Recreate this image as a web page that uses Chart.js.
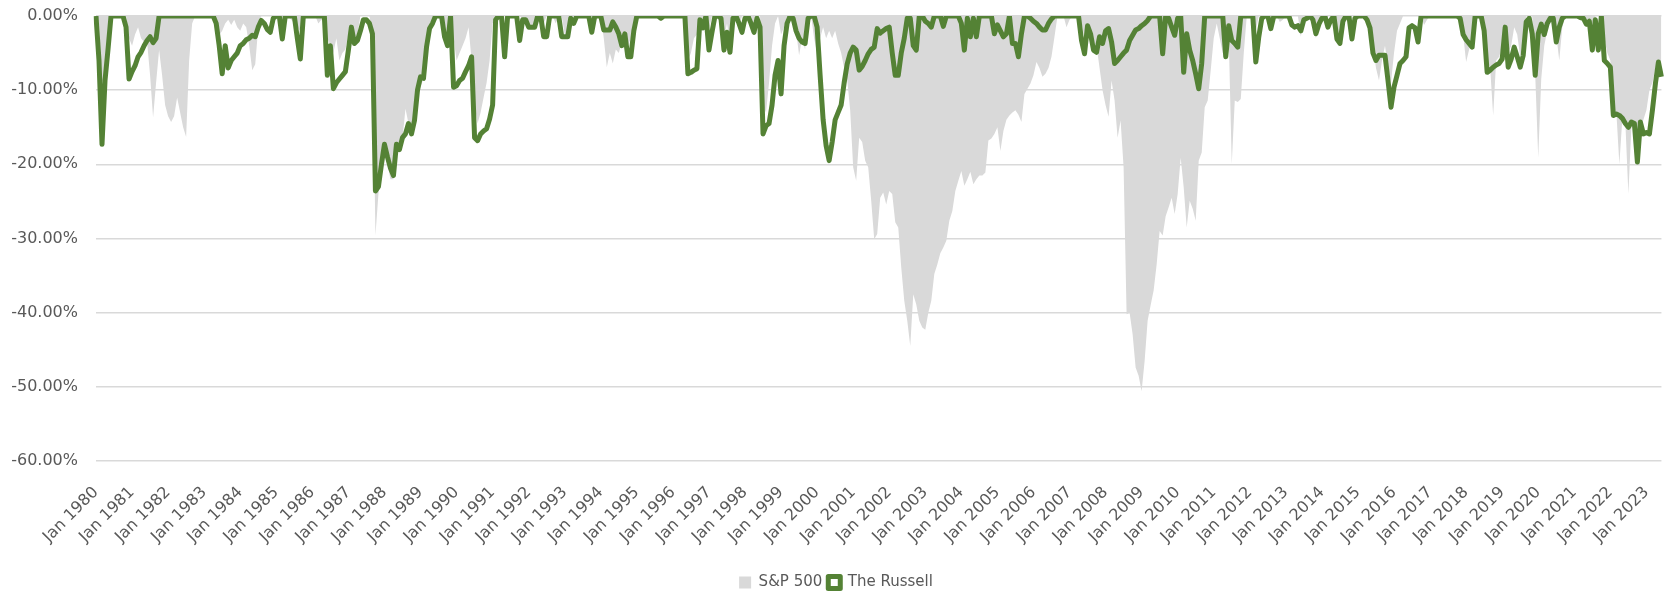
<!DOCTYPE html>
<html lang="en">
<head>
    <meta charset="UTF-8">
    <title>S&amp;P 500 vs The Russell - Drawdowns</title>
    <script src="https://cdn.jsdelivr.net/npm/chart.js"></script>
    <style>
        body { margin: 0; background: #fff; }
        .chart-box { width: 1674px; height: 596px; }
    </style>
</head>
<body>
    <div class="chart-box"><canvas id="ddChart"></canvas></div>

    <script>
    // monthly drawdowns in %, Jan 1980 .. Jun 2023 (one row per year)
    const firstYear = 1980;
    const monthNames = ["Jan", "Feb", "Mar", "Apr", "May", "Jun", "Jul", "Aug", "Sep", "Oct", "Nov", "Dec"];

    const sp500 = [
        0, -1, -9, -8, -3, 0, 0, 0, 0, 0, 0, -3,                                  // 1980
        -4, -2.5, -1.5, -3, -3.5, -3.5, -8, -13.7, -9, -4.6, -8, -12,             // 1981
        -13.5, -14.3, -13.5, -11, -13, -15, -16.3, -6, -1, 0, 0, 0,               // 1982
        0, 0, 0, 0, -1, -2.6, -2, -1, -0.5, -1.2, -0.5, -1.5,                     // 1983
        -2, -1, -1.5, -4, -7.3, -6.5, -1.5, 0, 0, 0, 0, 0,                        // 1984
        0, 0, -1.5, 0, 0, -0.5, -1, -1.5, -2, 0, 0, 0,                            // 1985
        0, 0, -1, -0.5, -1, -3, -4, -5, -3, -6, -5, -4.5,                         // 1986
        -2.5, -1, -3, -2.5, 0, 0, 0, 0, -2.5, -29.6, -24, -21,                    // 1987
        -18.5, -20, -22, -22, -18, -18.5, -16.5, -12.5, -14.5, -16, -14, -11,     // 1988
        -9.5, -8.5, -6.5, -3, -1, 0, 0, 0, -1.5, -2.5, -1, -3,                    // 1989
        -6, -5, -4, -3, -1.5, -6, -12, -14.5, -13, -11, -9, -6,                   // 1990
        -1, 0, 0, 0, 0, 0, 0, 0, 0, 0, -0.5, -1,                                  // 1991
        -1.5, -1.8, -1, 0, 0, -1, 0, 0, 0, -1, 0, 0,                              // 1992
        -2.5, -3, -1.5, 0, 0, 0, 0, 0, 0, 0, 0, 0,                                // 1993
        0, -3, -6.9, -5, -6.4, -4.5, -5, -3.5, -2.5, -4, -3, -1,                  // 1994
        0, 0, 0, 0, 0, 0, 0, 0, -0.3, 0, 0, 0,                                    // 1995
        0, 0, 0, 0, -1, -6, -5, -3, -2.5, 0, -1, 0,                               // 1996
        -2, 0, 0, 0, 0, -3, -1, -3.5, 0, 0, -1.5, 0,                              // 1997
        0, 0, 0, -1.5, 0, 0, -12, -13, -9, -4, -1, 0,                             // 1998
        -2.5, -1.5, 0, 0, 0, -2, -5.3, -3, -4.5, 0, 0, -3,                        // 1999
        -5.1, -3, -1.5, -3, -2, -3, -2, -3.7, -5, -7, -8.5, -12.7,                // 2000
        -20.4, -22.2, -16.4, -17, -19.5, -20.4, -24.9, -30.1, -29.4, -24.5, -23.8, -25.4, // 2001
        -23.6, -24, -27.8, -28.5, -33.9, -38.4, -41.1, -44.5, -37.5, -38.9, -41.1, -42,   // 2002
        -42.3, -40, -38.4, -34.8, -33.5, -32, -31.2, -30.3, -27.6, -26.3, -23.6, -22.2,   // 2003
        -20.9, -22.9, -22, -21, -22.7, -22, -21.5, -21.5, -21.1, -16.8, -16.5, -15.9,     // 2004
        -15, -18.2, -15.5, -14, -13.4, -13, -12.7, -13.3, -14.3, -10.5, -9.8, -9.1,       // 2005
        -8, -6.2, -7, -8.2, -7.8, -7, -5.5, -2.8, 0, 0, 0, -1.5,                  // 2006
        -0.5, 0, 0, 0, -1, -3, -1, -2, -3.5, -4, -7, -10,                         // 2007
        -12, -13.6, -8.7, -11.4, -16.4, -14.1, -20.4, -40.2, -40, -42.9, -47.4, -48.5,    // 2008
        -50.6, -46.5, -41.1, -39, -37, -33.5, -29, -29.6, -27, -25.8, -24.5, -26.7,       // 2009
        -24, -19.1, -23.1, -28.5, -24.9, -26, -27.6, -19.5, -18.4, -12.3, -11.4, -7.3,    // 2010
        -3, -1, -3, -5, -5, -3, -20, -11.4, -11.6, -11.2, -5, 0,                  // 2011
        0, 0, -2, 0, 0, 0, 0, 0, 0, 0, -0.8, -0.5,                                // 2012
        0, 0, 0, 0, 0, -2.8, 0, 0, 0, 0, -3, -1,                                  // 2013
        0, 0, 0, 0, 0, -2.5, -3, 0, 0, 0, 0, 0,                                   // 2014
        0, 0, 0, 0, -1, -4, -7, -8.7, -6, -4, -6.9, -9,                           // 2015
        -5, -2, -1, 0, 0, 0, 0, 0, 0, 0, -1.2, -0.5,                              // 2016
        0, 0, 0, 0, 0, 0, 0, 0, 0, 0, 0, -2.5,                                    // 2017
        -6.2, -4.5, -2, 0, 0, 0, -1.5, -6, -7, -13.4, -6, -5.5,                   // 2018
        -4, -1, -5, -4, -1.5, -2.5, -5.5, -3, 0, 0, 0, -8,                        // 2019
        -19.1, -8.5, -4, -2, 0, 0, -2.5, -6, -1.5, 0, 0, 0,                       // 2020
        0, 0, 0, -0.5, -1.5, -1, -3, 0, 0, 0, -3, -5,                             // 2021
        -6, -13, -13, -20, -13.8, -14.5, -24, -15, -15, -16, -15, -14,            // 2022
        -12.7, -10, -9, -7, -6, -6.5                                              // 2023
    ];

    const russell = [
        0, -6, -17.3, -8.7, -4.5, 0, 0, 0, 0, 0, -1.5, -8.5,                      // 1980
        -7.5, -6.7, -5.5, -4.9, -4, -3.3, -2.8, -3.6, -3, 0, 0, 0,                // 1981
        0, 0, 0, 0, 0, 0, 0, 0, 0, 0, 0, 0,                                       // 1982
        0, 0, 0, 0, -1, -4, -7.8, -4, -7, -6, -5.5, -5,                           // 1983
        -4, -3.7, -3.2, -3, -2.6, -2.8, -1.5, -0.6, -1, -1.8, -2.2, -0.3,         // 1984
        0, 0, -3.1, 0, 0, 0, 0, -3, -5.8, 0, 0, 0,                                // 1985
        0, 0, 0, 0, 0, -8, -4, -9.8, -9, -8.5, -8, -7.5,                          // 1986
        -4.6, -1.5, -3.7, -3.3, -2, -0.5, -0.5, -1, -2.4, -23.6, -23, -20,        // 1987
        -17.3, -19, -20.5, -21.5, -17.3, -18, -16.4, -15.9, -14.5, -15.9, -14.1, -10,     // 1988
        -8.2, -8.4, -4.2, -1.7, -1, 0, 0, 0, -2.8, -4, 0, -9.6,                   // 1989
        -9.4, -8.7, -8.4, -7.5, -6.7, -5.5, -16.4, -16.8, -15.9, -15.5, -15.2, -13.9,     // 1990
        -12, -0.5, 0, -0.2, -5.5, 0, 0, 0, 0, -3.3, -0.5, -0.5,                   // 1991
        -1.5, -1.5, -1.5, 0, 0, -2.8, -2.8, 0, 0, 0, 0, -2.8,                     // 1992
        -2.8, -2.8, -0.3, -1, 0, 0, 0, 0, 0, -2.2, 0, 0,                          // 1993
        0, -1.9, -1.9, -1.9, -0.8, -1.5, -2.4, -4, -2.4, -5.5, -5.5, -2,          // 1994
        0, 0, 0, 0, 0, 0, 0, 0, -0.3, 0, 0, 0,                                    // 1995
        0, 0, 0, 0, 0, -7.8, -7.6, -7.3, -7.1, -0.5, -1.6, 0,                     // 1996
        -4.6, -2.2, 0, 0, -0.3, -4.6, -2.2, -4.9, -0.3, 0, -1, -2.2,              // 1997
        -0.3, 0, -1, -2.2, -0.3, -1.5, -15.9, -14.8, -14.5, -12, -8, -6,          // 1998
        -10.5, -4, -1, 0, -0.3, -2, -3, -3.5, -3.7, -0.3, 0, 0,                   // 1999
        -1.5, -8, -14, -17.5, -19.5, -17, -14, -13, -12, -9, -6.5, -5,            // 2000
        -4.2, -4.6, -7.3, -6.8, -6, -5.1, -4.5, -4.2, -1.7, -2.3, -2, -1.7,       // 2001
        -1.5, -5, -8, -8, -5, -3, -0.3, -0.3, -4, -4.6, 0, 0,                     // 2002
        -0.7, -1, -1.5, 0, 0, 0, -1.4, 0, 0, 0, 0, 0,                             // 2003
        -1, -4.6, -0.3, -2.8, -0.3, -2.8, 0, 0, 0, 0, 0, -2.4,                    // 2004
        -1.2, -2, -2.8, -2.4, 0, -3.7, -3.7, -5.5, -2.4, 0, 0, -0.3,              // 2005
        -0.7, -1, -1.5, -1.9, -1.9, -1, -0.4, 0, 0, 0, 0, 0,                      // 2006
        0, 0, 0, 0, -3.3, -5.1, -1.3, -2.4, -4.6, -4.9, -2.8, -3.7,               // 2007
        -2, -1.7, -3.5, -6.4, -6, -5.5, -5, -4.6, -3.3, -2.6, -1.9, -1.7,         // 2008
        -1.3, -1, -0.6, 0, 0, 0, 0, -5.1, 0, -0.3, -1.5, -2.6,                    // 2009
        -0.3, 0, -7.6, -2.4, -4.6, -6, -7.8, -9.8, -6.4, 0, 0, 0,                 // 2010
        0, 0, 0, 0, -5.5, -1.3, -3.3, -3.7, -4.2, 0, 0, 0,                        // 2011
        0, 0, -6.2, -2.8, -0.3, 0, 0, -1.7, 0, 0, 0, 0,                           // 2012
        0, 0, -1.2, -1.5, -1.3, -2, -0.5, -0.3, 0, -0.5, -2.4, -1.1,              // 2013
        -0.3, 0, -1.5, -0.5, 0, -3.1, -3.7, -0.7, 0, 0, -3.1, -0.3,               // 2014
        0, 0, 0, -0.5, -1.6, -5, -6, -5.3, -5.3, -5.3, -8.7, -12.3,               // 2015
        -9.6, -8, -6.4, -6, -5.5, -1.6, -1.3, -1.6, -3.5, 0, 0, 0,                // 2016
        0, 0, 0, 0, 0, 0, 0, 0, 0, 0, -0.3, -2.5,                                 // 2017
        -3.2, -3.7, -4.2, 0, 0, 0, -2, -7.6, -7.3, -6.9, -6.6, -6.4,              // 2018
        -5.8, -1.5, -6.9, -5.8, -4.2, -5.5, -6.9, -5.3, -0.8, -0.3, -2.4, -8,     // 2019
        -2.4, -1.1, -2.5, -1, -0.3, -0.3, -3.5, -1.5, -0.3, 0, 0, 0,              // 2020
        0, 0, -0.2, -0.3, -1.1, -0.7, -4.6, -0.5, -4.6, 0, -6, -6.4,              // 2021
        -6.9, -13.4, -13.2, -13.4, -13.8, -14.5, -15, -14.3, -14.5, -19.7, -14.3, -15.9,  // 2022
        -15.7, -15.9, -12.7, -9.1, -6.2, -8.2                                     // 2023
    ];

    // month labels "Jan 1980", "Feb 1980", ...
    const labels = sp500.map((_, i) => `${monthNames[i % 12]} ${firstYear + Math.floor(i / 12)}`);

    Chart.defaults.font.family = "'DejaVu Sans', sans-serif";
    Chart.defaults.color = "#595959";

    new Chart(document.getElementById("ddChart"), {
        type: "line",
        data: {
            labels: labels,
            datasets: [
                {
                    label: "S&P 500",
                    data: sp500,
                    fill: "origin",
                    backgroundColor: "#d9d9d9",
                    borderColor: "#d9d9d9",
                    borderWidth: 0,
                    pointRadius: 0,
                    order: 2
                },
                {
                    label: "The Russell",
                    data: russell,
                    fill: false,
                    borderColor: "#548235",
                    backgroundColor: "#ffffff",
                    borderWidth: 5,
                    pointRadius: 0,
                    borderJoinStyle: "round",
                    order: 1
                }
            ]
        },
        options: {
            responsive: true,
            maintainAspectRatio: false,
            animation: false,
            layout: { padding: { top: 16, right: 2, left: 0, bottom: -4 } },
            plugins: {
                tooltip: { enabled: false },
                legend: {
                    position: "bottom",
                    labels: {
                        boxWidth: 12,
                        boxHeight: 12,
                        padding: 6,
                        font: { size: 15 },
                        sort: (a, b) => a.datasetIndex - b.datasetIndex
                    }
                }
            },
            scales: {
                x: {
                    grid: { display: false },
                    border: { display: false },
                    afterFit: (axis) => { axis.height = 108; },
                    ticks: {
                        autoSkip: false,
                        minRotation: 45,
                        maxRotation: 45,
                        padding: 14,
                        font: { size: 16 },
                        callback: function (value) {
                            const l = this.getLabelForValue(value);
                            return l.startsWith("Jan") ? l : null;
                        }
                    }
                },
                y: {
                    min: -60,
                    max: 0,
                    border: { display: false },
                    grid: { color: "#d9d9d9", lineWidth: 1.5, drawTicks: false },
                    // fixed width, and no extra room above the top label
                    afterFit: (axis) => {
                        axis.width = 96;
                        axis.paddingTop = 0;
                        axis.paddingBottom = 0;
                    },
                    ticks: {
                        stepSize: 10,
                        padding: 18,
                        font: { size: 16 },
                        callback: (v) => v.toFixed(2) + "%"
                    }
                }
            }
        }
    });
    </script>
</body>
</html>
